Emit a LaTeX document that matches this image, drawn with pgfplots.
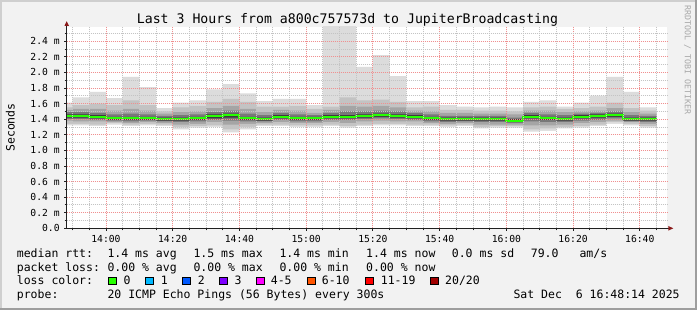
\documentclass[border=0pt]{standalone}
\usepackage{pgfplots}
\pgfplotsset{compat=1.18}
\usepackage{pgfplotstable}
\usepackage{fontspec}
\setmainfont{DejaVu Sans Mono}
\definecolor{bgc}{HTML}{F2F2F2}
\definecolor{shadea}{HTML}{CFCFCF}
\definecolor{shadeb}{HTML}{9E9E9E}
\definecolor{mgridc}{HTML}{F09090}
\definecolor{gridc}{HTML}{C4C4C4}
\definecolor{axisc}{HTML}{202020}
\definecolor{arrowc}{HTML}{8B1A1A}
\definecolor{sA}{HTML}{DCDCDC}
\definecolor{sB}{HTML}{C3C3C3}
\definecolor{sC}{HTML}{A5A5A5}
\definecolor{sD}{HTML}{787878}
\definecolor{sE}{HTML}{3C3C3C}
\definecolor{lz}{HTML}{26FF00}
\definecolor{la}{HTML}{00B8FF}
\definecolor{lb}{HTML}{0059FF}
\definecolor{lc}{HTML}{7E00FF}
\definecolor{ld}{HTML}{FF00FF}
\definecolor{le}{HTML}{FF5500}
\definecolor{lf}{HTML}{FF0000}
\definecolor{lg}{HTML}{A10000}
\definecolor{credit}{HTML}{A8A8A8}
\pgfplotstableread{
t mn blo clo dlo elo med ehi dhi chi bhi mx
828.233 1.32 1.34 1.38 1.40 1.42 1.44 1.46 1.49 1.52 1.55 1.61
830 1.32 1.34 1.37 1.40 1.42 1.44 1.46 1.49 1.53 1.58 1.68
835 1.31 1.33 1.37 1.39 1.41 1.43 1.45 1.48 1.53 1.60 1.75
840 1.33 1.35 1.36 1.38 1.39 1.41 1.43 1.46 1.51 1.58 1.67
845 1.31 1.33 1.35 1.37 1.39 1.41 1.43 1.47 1.53 1.64 1.94
850 1.32 1.34 1.36 1.38 1.39 1.41 1.43 1.46 1.51 1.58 1.81
855 1.31 1.33 1.35 1.37 1.38 1.40 1.42 1.44 1.47 1.50 1.54
860 1.27 1.30 1.33 1.36 1.38 1.40 1.42 1.45 1.49 1.55 1.61
865 1.29 1.31 1.34 1.37 1.39 1.41 1.43 1.46 1.50 1.57 1.64
870 1.30 1.32 1.36 1.39 1.41 1.435 1.46 1.49 1.54 1.62 1.78
875 1.23 1.27 1.33 1.38 1.42 1.45 1.47 1.51 1.57 1.66 1.85
880 1.27 1.30 1.34 1.37 1.39 1.41 1.43 1.47 1.53 1.62 1.73
885 1.31 1.33 1.35 1.37 1.38 1.40 1.42 1.45 1.49 1.56 1.63
890 1.31 1.33 1.36 1.39 1.41 1.43 1.45 1.48 1.52 1.56 1.66
895 1.30 1.32 1.35 1.37 1.39 1.41 1.43 1.46 1.51 1.57 1.66
900 1.30 1.32 1.35 1.37 1.39 1.41 1.43 1.45 1.48 1.53 1.58
905 1.31 1.33 1.36 1.39 1.41 1.43 1.45 1.48 1.52 1.56 2.70
910 1.29 1.31 1.35 1.39 1.41 1.43 1.45 1.50 1.57 1.68 2.70
915 1.31 1.33 1.37 1.40 1.42 1.44 1.46 1.50 1.56 1.64 2.07
920 1.32 1.34 1.38 1.41 1.43 1.45 1.47 1.51 1.57 1.65 2.22
925 1.32 1.34 1.37 1.40 1.42 1.44 1.46 1.50 1.55 1.62 1.95
930 1.31 1.33 1.37 1.39 1.41 1.43 1.45 1.48 1.51 1.55 1.63
935 1.31 1.33 1.35 1.37 1.39 1.41 1.43 1.46 1.50 1.56 1.63
940 1.30 1.32 1.34 1.36 1.38 1.40 1.42 1.44 1.48 1.52 1.58
945 1.31 1.33 1.35 1.37 1.38 1.40 1.42 1.44 1.48 1.52 1.56
950 1.28 1.30 1.33 1.36 1.38 1.40 1.42 1.44 1.47 1.51 1.55
955 1.29 1.31 1.33 1.36 1.38 1.40 1.42 1.44 1.47 1.51 1.56
960 1.29 1.31 1.33 1.35 1.36 1.375 1.40 1.42 1.46 1.50 1.55
965 1.24 1.27 1.32 1.37 1.41 1.43 1.45 1.48 1.51 1.55 1.62
970 1.25 1.28 1.32 1.36 1.39 1.41 1.43 1.46 1.51 1.56 1.64
975 1.28 1.30 1.33 1.36 1.38 1.40 1.42 1.45 1.49 1.53 1.56
980 1.29 1.31 1.35 1.38 1.41 1.43 1.45 1.47 1.50 1.54 1.61
985 1.31 1.33 1.36 1.39 1.42 1.44 1.46 1.48 1.51 1.56 1.70
990 1.34 1.36 1.38 1.41 1.43 1.45 1.47 1.50 1.54 1.61 1.94
995 1.32 1.34 1.36 1.37 1.38 1.40 1.42 1.45 1.49 1.54 1.75
1000 1.29 1.31 1.34 1.36 1.38 1.40 1.42 1.44 1.47 1.51 1.55
1005 1.29 1.31 1.34 1.36 1.38 1.40 1.42 1.44 1.47 1.51 1.55
}\smoke
\newcommand{\leg}{\fontsize{11.5}{13}\selectfont}
\newcommand{\lbox}[2]{\filldraw[fill=#2, draw=black, line width=0.8pt] (#1,25.3) rectangle ++(7.7,7.7);}
\begin{document}
\begin{tikzpicture}[x=1pt,y=1pt]
\fill[bgc] (0,0) rectangle (697,310);
\fill[shadea] (0,0) rectangle (2,310);
\fill[shadea] (0,308) rectangle (697,310);
\fill[shadeb] (695,0) rectangle (697,310);
\fill[shadeb] (0,0) rectangle (697,2);
\begin{axis}[
  at={(66.7pt,81.7pt)}, anchor=south west,
  scale only axis, width=600.6pt, height=201.6pt,
  xmin=828.233, xmax=1008.233, ymin=0, ymax=2.585,
  axis on top,
  axis background/.style={fill=white},
  axis lines*=left,
  axis line style={draw=axisc, line width=0.8pt},
  xtick={840,860,880,900,920,940,960,980,1000},
  xticklabels={14:00,14:20,14:40,15:00,15:20,15:40,16:00,16:20,16:40},
  minor xtick={830,835,...,1005},
  ytick={0,0.2,0.4,0.6,0.8,1.0,1.2,1.4,1.6,1.8,2.0,2.2,2.4},
  yticklabels={0.0,0.2 m,0.4 m,0.6 m,0.8 m,1.0 m,1.2 m,1.4 m,1.6 m,1.8 m,2.0 m,2.2 m,2.4 m},
  minor ytick={0.1,0.3,0.5,0.7,0.9,1.1,1.3,1.5,1.7,1.9,2.1,2.3,2.5},
  grid=both,
  major grid style={draw=mgridc, dash pattern=on 1pt off 1pt, line width=0.8pt},
  minor grid style={draw=gridc, dash pattern=on 1pt off 1pt, line width=0.8pt},
  tick align=outside,
  major tick length=2.5pt, minor tick length=2pt,
  tick style={draw=axisc, line width=0.8pt},
  xticklabel style={font=\fontsize{9.7}{10}\selectfont, text=black, yshift=-1pt},
  yticklabel style={font=\fontsize{9.7}{10}\selectfont, text=black, xshift=-1pt},
]
\addplot[const plot, fill=sA, draw=none] table[x=t,y=mx] {\smoke} \closedcycle;
\addplot[const plot, fill=sB, draw=none] table[x=t,y=bhi] {\smoke} \closedcycle;
\addplot[const plot, fill=sC, draw=none] table[x=t,y=chi] {\smoke} \closedcycle;
\addplot[const plot, fill=sD, draw=none] table[x=t,y=dhi] {\smoke} \closedcycle;
\addplot[const plot, fill=sE, draw=none] table[x=t,y=ehi] {\smoke} \closedcycle;
\addplot[const plot, fill=sD, draw=none] table[x=t,y=elo] {\smoke} \closedcycle;
\addplot[const plot, fill=sC, draw=none] table[x=t,y=dlo] {\smoke} \closedcycle;
\addplot[const plot, fill=sB, draw=none] table[x=t,y=clo] {\smoke} \closedcycle;
\addplot[const plot, fill=sA, draw=none] table[x=t,y=blo] {\smoke} \closedcycle;
\addplot[const plot, fill=white, draw=none] table[x=t,y=mn] {\smoke} \closedcycle;
\addplot[const plot, draw=lz, line width=2pt] table[x=t,y=med] {\smoke};
\end{axis}
% axis extensions and arrow heads
\draw[axisc, line width=0.8pt] (66.7,283) -- (66.7,288);
\fill[arrowc] (64.4,284) -- (66.7,288.8) -- (69.0,284) -- cycle;
\draw[axisc, line width=0.8pt] (667,81.7) -- (672,81.7);
\fill[arrowc] (668.3,79.4) -- (673.3,81.7) -- (668.3,84.0) -- cycle;
% title and labels
\node[anchor=base, inner sep=0, font=\fontsize{13.2}{15}\selectfont] at (347.5,286) {Last 3 Hours from a800c757573d to JupiterBroadcasting};
\node[anchor=base, rotate=90, inner sep=0, font=\leg] at (14.5,182.5) {Seconds};
\node[rotate=-90, inner sep=0, text=credit, font=\fontsize{8.3}{9}\selectfont] at (687.5,250) {RRDTOOL / TOBI OETIKER};
% legend
\begin{scope}[every node/.style={anchor=base west, inner sep=0, font=\leg}]
\node at (16.7,52.5) {median rtt:};
\node at (107.3,52.5) {1.4 ms avg};
\node at (193.3,52.5) {1.5 ms max};
\node at (279.3,52.5) {1.4 ms min};
\node at (366,52.5) {1.4 ms now};
\node at (451.7,52.5) {0.0 ms sd};
\node at (530.7,52.5) {79.0};
\node at (579.3,52.5) {am/s};
\node at (16.7,38.5) {packet loss:};
\node at (107.3,38.5) {0.00 \% avg};
\node at (193.3,38.5) {0.00 \% max};
\node at (279.3,38.5) {0.00 \% min};
\node at (366,38.5) {0.00 \% now};
\node at (16.7,25) {loss color:};
\node at (123.3,25) {0};
\node at (160.7,25) {1};
\node at (197.7,25) {2};
\node at (234.3,25) {3};
\node at (270.7,25) {4-5};
\node at (321.7,25) {6-10};
\node at (380.7,25) {11-19};
\node at (445,25) {20/20};
\node at (16.7,11) {probe:};
\node at (107.3,11) {20 ICMP Echo Pings (56 Bytes) every 300s};
\node at (513.3,11) {Sat Dec\ \ 6 16:48:14 2025};
\end{scope}
\lbox{108.3}{lz}
\lbox{145.7}{la}
\lbox{182.7}{lb}
\lbox{219.3}{lc}
\lbox{256.7}{ld}
\lbox{307.3}{le}
\lbox{365.7}{lf}
\lbox{430.7}{lg}
\end{tikzpicture}
\end{document}
